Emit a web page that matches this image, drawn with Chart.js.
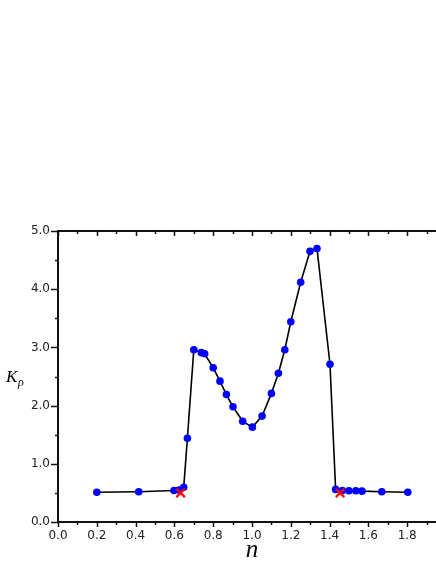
<!DOCTYPE html>
<html>
<head>
<meta charset="utf-8">
<script src="https://cdn.jsdelivr.net/npm/chart.js@4/dist/chart.umd.min.js"></script>
<style>
  html, body { margin: 0; padding: 0; background: #fff; overflow: hidden; }
  #wrap { width: 470px; height: 564px; }
</style>
</head>
<body>
<div id="wrap"><canvas id="chart" width="470" height="564"></canvas></div>
<script>
// measured points (n, K_rho)
let nValues = [0.2, 0.416, 0.598, 0.624, 0.648, 0.667, 0.70, 0.739, 0.756, 0.80, 0.835, 0.868, 0.902, 0.952, 1.002, 1.052,
               1.10, 1.136, 1.169, 1.20, 1.251, 1.299, 1.335, 1.402, 1.431, 1.466, 1.50, 1.535, 1.567, 1.669, 1.803];
let kValues = [0.51, 0.52, 0.54, 0.55, 0.595, 1.44, 2.96, 2.91, 2.89, 2.65, 2.42, 2.19, 1.98, 1.73, 1.63, 1.82,
               2.21, 2.555, 2.96, 3.44, 4.12, 4.65, 4.70, 2.71, 0.56, 0.54, 0.536, 0.536, 0.53, 0.52, 0.51];

// red crosses
let crossN = [0.632, 1.454];
let crossK = [0.50, 0.50];

let xTickStep = 0.2;
let yTickStep = 1.0;

let mainPts = nValues.map((v, i) => ({ x: v, y: kValues[i] }));
let crossPts = crossN.map((v, i) => ({ x: v, y: crossK[i] }));

// draws the frame, tick marks and axis titles
let framePlugin = {
    id: 'frame',
    afterDraw(chart) {
        let ctx = chart.ctx;
        let a = chart.chartArea;
        let xs = chart.scales.x, ys = chart.scales.y;
        ctx.save();
        ctx.strokeStyle = '#111';
        ctx.lineWidth = 2;
        ctx.beginPath();
        ctx.rect(a.left, a.top, a.right - a.left, a.bottom - a.top);
        ctx.stroke();

        ctx.lineWidth = 1.5;
        ctx.beginPath();
        for (let i = 0; i <= 20; i++) {
            let px = Math.round(xs.getPixelForValue(i * 0.1)) + 0.5;
            let major = i % 2 == 0;
            // bottom, outward
            ctx.moveTo(px, a.bottom);
            ctx.lineTo(px, a.bottom + (major ? 5 : 3));
            // top, inward
            ctx.moveTo(px, a.top);
            ctx.lineTo(px, a.top + (major ? 5 : 3));
        }
        for (let i = 0; i <= 10; i++) {
            let py = Math.round(ys.getPixelForValue(i * 0.5)) + 0.5;
            let major = i % 2 == 0;
            ctx.moveTo(a.left, py);
            ctx.lineTo(a.left - (major ? 7 : 3), py);
            ctx.moveTo(a.right, py);
            ctx.lineTo(a.right + (major ? 7 : 3), py);
        }
        ctx.stroke();

        // axis titles
        ctx.fillStyle = '#000';
        ctx.textBaseline = 'alphabetic';
        ctx.textAlign = 'left';
        ctx.font = 'italic 17px "Liberation Serif", "DejaVu Serif", serif';
        ctx.fillText('K', 6, 382);
        ctx.font = 'italic 12px "Liberation Serif", "DejaVu Serif", serif';
        ctx.fillText('ρ', 18, 386);

        ctx.textAlign = 'center';
        ctx.font = 'italic 25px "Liberation Serif", "DejaVu Serif", serif';
        ctx.fillText('n', (xs.getPixelForValue(1.0)), 557);
        ctx.restore();
    }
};

new Chart(document.getElementById('chart'), {
    type: 'line',
    data: {
        datasets: [
            {
                data: mainPts,
                order: 2,
                borderColor: '#000',
                borderWidth: 1.6,
                pointBackgroundColor: '#0000ff',
                pointBorderColor: '#0000ff',
                pointBorderWidth: 0,
                pointRadius: 3.8,
                tension: 0,
                fill: false
            },
            {
                type: 'scatter',
                data: crossPts,
                order: 1,
                showLine: false,
                pointStyle: 'crossRot',
                pointRadius: 6,
                borderColor: '#ff0000',
                pointBorderColor: '#ff0000',
                pointBorderWidth: 2.2
            }
        ]
    },
    options: {
        responsive: false,
        maintainAspectRatio: false,
        animation: false,
        layout: { padding: { top: 231, right: 24, left: 0, bottom: 0 } },
        plugins: {
            legend: { display: false },
            tooltip: { enabled: false }
        },
        scales: {
            x: {
                type: 'linear',
                min: 0,
                max: 2,
                grid: { display: false, drawTicks: false },
                border: { display: false },
                ticks: {
                    stepSize: xTickStep,
                    autoSkip: false,
                    maxRotation: 0,
                    padding: 7,
                    color: '#222',
                    font: { family: 'DejaVu Sans', size: 12 },
                    callback: v => v.toFixed(1)
                },
                afterFit: s => { s.height = 42; }
            },
            y: {
                min: 0,
                max: 5,
                grid: { display: false, drawTicks: false },
                border: { display: false },
                ticks: {
                    stepSize: yTickStep,
                    padding: 8,
                    color: '#222',
                    font: { family: 'DejaVu Sans', size: 12 },
                    callback: v => v.toFixed(1)
                },
                afterFit: s => { s.width = 58; }
            }
        }
    },
    plugins: [framePlugin]
});
</script>
</body>
</html>
